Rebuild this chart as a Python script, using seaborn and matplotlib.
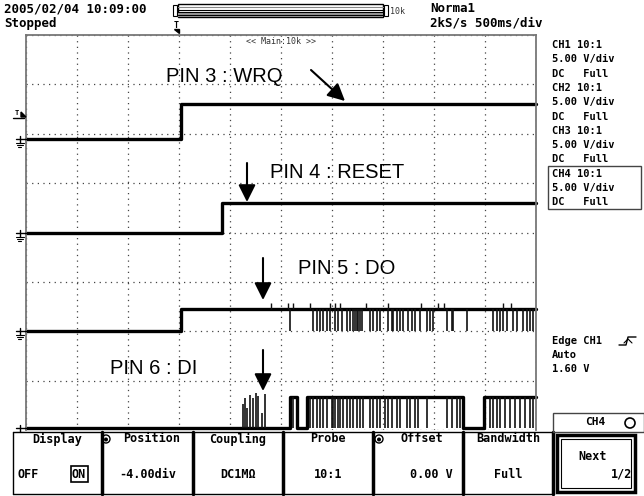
import numpy as np
import pandas as pd
import seaborn as sns
import matplotlib.pyplot as plt
from matplotlib.patches import Rectangle, Circle

# Scope settings (4 channels, 500 ms/div, 10 div -> 5 s)
kanalen = ['CH1', 'CH2', 'CH3', 'CH4']
pin_labels = ['PIN 3 : WRQ', 'PIN 4 : RESET', 'PIN 5 : DO', 'PIN 6 : DI']
positie_div = [1.9, 0.0, -2.0, -3.95]     # ground position of each trace
hoog_volt = [3.5, 3.0, 2.3, 3.1]          # logic high level in volt
volt_per_div = 5.0

# Edges of every trace (time in s) and logic level after that edge
ch1_t = [0.0, 1.52, 5.0]
ch1_lvl = [0, 1, 1]
ch2_t = [0.0, 1.92, 5.0]
ch2_lvl = [0, 1, 1]
ch3_t = [0.0, 1.52, 5.0]
ch3_lvl = [0, 1, 1]
ch4_t = [0.0, 2.59, 2.66, 2.75, 4.28, 4.49, 5.0]
ch4_lvl = [0, 1, 0, 1, 0, 1, 1]

# Glitches (time in s)
do_spikes = [2.588, 2.814, 2.853, 2.882, 2.912, 2.951, 2.980, 3.029, 3.059, 3.098,
             3.147, 3.176, 3.206, 3.225, 3.245, 3.255, 3.275, 3.294, 3.373, 3.402,
             3.441, 3.471, 3.549, 3.588, 3.598, 3.637, 3.667, 3.696, 3.745, 3.784,
             3.814, 3.863, 3.931, 3.961, 3.990, 4.127, 4.176, 4.186, 4.324, 4.578,
             4.618, 4.647, 4.676, 4.716, 4.775, 4.814, 4.873, 4.912, 4.941, 4.971]
do_up = [2.40, 2.57, 2.62, 2.78, 2.98, 3.03, 3.08, 3.33, 3.55, 3.87, 4.04, 4.10, 4.68, 4.75]
di_up_t = [2.127, 2.147, 2.167, 2.196, 2.225, 2.255, 2.275, 2.314, 2.343]
di_up_volt = [2.4, 3.0, 2.0, 3.3, 3.0, 3.5, 3.2, 1.5, 3.4]
di_down = [2.618, 2.784, 2.814, 2.853, 2.882, 2.912, 2.951, 3.000, 3.010, 3.029,
           3.059, 3.078, 3.108, 3.147, 3.176, 3.206, 3.245, 3.275, 3.304, 3.373,
           3.402, 3.441, 3.471, 3.520, 3.549, 3.588, 3.637, 3.667, 3.735, 3.765,
           3.814, 3.843, 3.931, 4.127, 4.176, 4.225, 4.255, 4.549, 4.578, 4.618,
           4.647, 4.696, 4.745, 4.794, 4.843, 4.892, 4.941, 4.971]

# Screen texts
info_lines = ['CH1 10:1', '5.00 V/div', 'DC   Full',
              'CH2 10:1', '5.00 V/div', 'DC   Full',
              'CH3 10:1', '5.00 V/div', 'DC   Full',
              'CH4 10:1', '5.00 V/div', 'DC   Full']
trig_lines = ['Edge CH1', 'Auto', '1.60 V']
knop_titels = ['Display', 'Position', 'Coupling', 'Probe', 'Offset', 'Bandwidth']
knop_waarden = ['', '-4.00div', 'DC1MΩ', '10:1', '0.00 V', 'Full']

sns.set_style('white')
plt.rcParams['font.family'] = ['DejaVu Sans Mono', 'DejaVu Sans']
mono = dict(fontweight='bold', color='black', va='center')

fig = plt.figure(figsize=(6.44, 4.96), dpi=100)

# 1. graticule
ax = fig.add_axes([26 / 644, 66 / 496, 510 / 644, 395 / 496], zorder=1)
ax.set_xlim(0, 5)
ax.set_ylim(-4, 4)
ax.set_xticks(np.arange(0, 5.01, 0.5))
ax.set_yticks(np.arange(-4, 4.01, 1))
ax.tick_params(length=0, labelbottom=False, labelleft=False)
ax.grid(True, linestyle=(0, (1, 3.5)), color='#444', linewidth=0.9)
for s in ['top', 'left', 'right']:
    ax.spines[s].set_color('#777')
    ax.spines[s].set_linewidth(1.3)
ax.spines['bottom'].set_visible(False)

# 2. traces
alle_t = [ch1_t, ch2_t, ch3_t, ch4_t]
alle_lvl = [ch1_lvl, ch2_lvl, ch3_lvl, ch4_lvl]
rijen = []
for k, t, lvl, pos, hv in zip(kanalen, alle_t, alle_lvl, positie_div, hoog_volt):
    for ti, li in zip(t, lvl):
        rijen.append({'kanaal': k, 'tijd': ti, 'div': pos + li * hv / volt_per_div})
df = pd.DataFrame(rijen)
for k in kanalen:
    d = df[df['kanaal'] == k]
    sns.lineplot(data=d, x='tijd', y='div', ax=ax, drawstyle='steps-post', estimator=None,
                 sort=False, color='black', linewidth=2.4, clip_on=False)
ax.set_xlabel('')
ax.set_ylabel('')

hoog3 = positie_div[2] + hoog_volt[2] / volt_per_div
ax.vlines(do_spikes, positie_div[2], hoog3, colors='#111', linewidth=1.2)
ax.vlines(do_up, hoog3, hoog3 + 0.12, colors='#111', linewidth=1.0)
hoog4 = positie_div[3] + hoog_volt[3] / volt_per_div
ax.vlines(di_down, positie_div[3], hoog4, colors='#111', linewidth=1.2, clip_on=False)
ax.vlines(di_up_t, positie_div[3], positie_div[3] + np.array(di_up_volt) / volt_per_div,
          colors='#111', linewidth=1.2, clip_on=False)

# 3. overlay in screen pixels for all the scope texts
ov = fig.add_axes([0, 0, 1, 1], zorder=2)
ov.set_xlim(0, 644)
ov.set_ylim(496, 0)
ov.axis('off')
ov.patch.set_alpha(0)

ov.text(4, 9, '2005/02/04 10:09:00', fontsize=9, **mono)
ov.text(4, 23, 'Stopped', fontsize=9, **mono)
ov.add_patch(Rectangle((173, 5), 4, 11, fill=False, lw=0.8, ec='black'))
ov.add_patch(Rectangle((178, 4), 205, 13, fc='white', lw=1, ec='black'))
ov.add_patch(Rectangle((178, 12.5), 205, 4, fc='#999', lw=0))
for yy, c in [(7, '#888'), (9.5, 'black'), (11.5, 'black'), (14.5, 'black')]:
    ov.plot([178, 383], [yy, yy], color=c, lw=0.8)
ov.add_patch(Rectangle((384, 5), 4, 11, fill=False, lw=0.8, ec='black'))
ov.text(390, 11, '10k', fontsize=6, color='#333', va='center')
ov.text(176, 25, 'T', fontsize=6, ha='center', **mono)
ov.fill([174, 179, 179], [29, 29, 33], color='black')
ov.text(430, 9, 'Norma1', fontsize=9, **mono)
ov.text(430, 23, '2kS/s 500ms/div', fontsize=9, **mono)
ov.text(281, 41, '<< Main:10k >>', fontsize=6, ha='center', va='center', color='#333')

for i, regel in enumerate(info_lines):
    ov.text(552, 45 + i * 14.3, regel, fontsize=7.5, **mono)
ov.add_patch(Rectangle((548, 166), 93, 43, fill=False, lw=1, ec='#444'))
for i, regel in enumerate(trig_lines):
    ov.text(552, 341 + i * 14, regel, fontsize=7.5, **mono)
ov.plot([619, 626, 628, 636], [345, 345, 337, 337], color='black', lw=1)
ov.plot([624, 628, 632], [343, 339, 343], color='black', lw=0.8)

# 4. pin labels with arrows
label_xy = [(166, 76), (270, 172), (298, 268), (110, 368)]
pijlen = [((311, 70), (345, 101)), ((247, 163), (247, 202)),
          ((263, 258), (263, 300)), ((263, 350), (263, 391))]
for lab, (x, y) in zip(pin_labels, label_xy):
    ov.text(x, y, lab, fontsize=14.5, family='Liberation Sans', va='center', color='black')
for staart, punt in pijlen:
    ov.annotate('', xy=punt, xytext=staart,
                arrowprops=dict(arrowstyle='-|>', color='black', lw=1.5, mutation_scale=26,
                                shrinkA=0, shrinkB=0))

# 5. ground markers at the trace positions
for pos in positie_div:
    y = 496 - ax.transData.transform((0, pos))[1]
    ov.plot([16, 26], [y, y], color='black', lw=1)
    ov.plot([20, 20], [y - 3, y + 4], color='black', lw=1)
    for dy, w in [(4, 4), (6, 3), (8, 1.5)]:
        ov.plot([20 - w, 20 + w], [y + dy, y + dy], color='black', lw=0.8)
ov.text(15, 113, 'T', fontsize=5, **mono)
ov.plot([13, 24], [118, 118], color='black', lw=1)
ov.fill([21, 26, 21], [112, 117, 117], color='black')

# 6. soft keys at the bottom
ov.add_patch(Rectangle((0, 432), 644, 64, fc='white', lw=0, zorder=3))
randen = [13, 102, 193, 283, 373, 463, 553]
ov.plot([13, 553], [432, 432], color='black', lw=1, zorder=4)
ov.plot([13, 553], [494, 494], color='black', lw=1, zorder=4)
for i, xr in enumerate(randen):
    ov.plot([xr, xr], [432, 494], color='black', lw=1 if i == 0 else 2.5, zorder=4)
for i, titel in enumerate(knop_titels):
    xm = (randen[i] + randen[i + 1]) / 2
    ov.text(xm + (4 if i in (1, 4) else 0), 439, titel, fontsize=8.5, ha='center', zorder=5, **mono)
    if i == 4:
        ov.text(randen[i + 1] - 10, 474, knop_waarden[i], fontsize=8.5, ha='right', zorder=5, **mono)
    elif knop_waarden[i]:
        ov.text(xm, 474, knop_waarden[i], fontsize=8.5, ha='center', zorder=5, **mono)
ov.text(18, 474, 'OFF', fontsize=8.5, zorder=5, **mono)
ov.text(79, 474, 'ON', fontsize=8.5, ha='center', zorder=5, **mono)
ov.add_patch(Rectangle((71, 466), 17, 16, fill=False, lw=1.2, ec='black', zorder=5))
for xk in [106, 379]:
    ov.add_patch(Circle((xk, 439), 4, fill=False, lw=1, ec='black', zorder=5))
    ov.add_patch(Circle((xk, 439.5), 2, fc='black', lw=0, zorder=5))

ov.add_patch(Rectangle((553, 413), 91, 19, fill=False, lw=1, ec='#444', zorder=4))
ov.text(585, 422, 'CH4', fontsize=8, zorder=5, **mono)
ov.add_patch(Circle((630, 423), 5, fill=False, lw=1.2, ec='black', zorder=5))
ov.add_patch(Rectangle((557, 435), 78, 57, fill=False, lw=2.5, ec='black', zorder=4))
ov.add_patch(Rectangle((561, 439), 70, 49, fill=False, lw=0.8, ec='black', zorder=4))
ov.text(578, 456, 'Next', fontsize=8.5, zorder=5, **mono)
ov.text(632, 474, '1/2', fontsize=8.5, ha='right', zorder=5, **mono)

plt.savefig('out.png', dpi=100)
